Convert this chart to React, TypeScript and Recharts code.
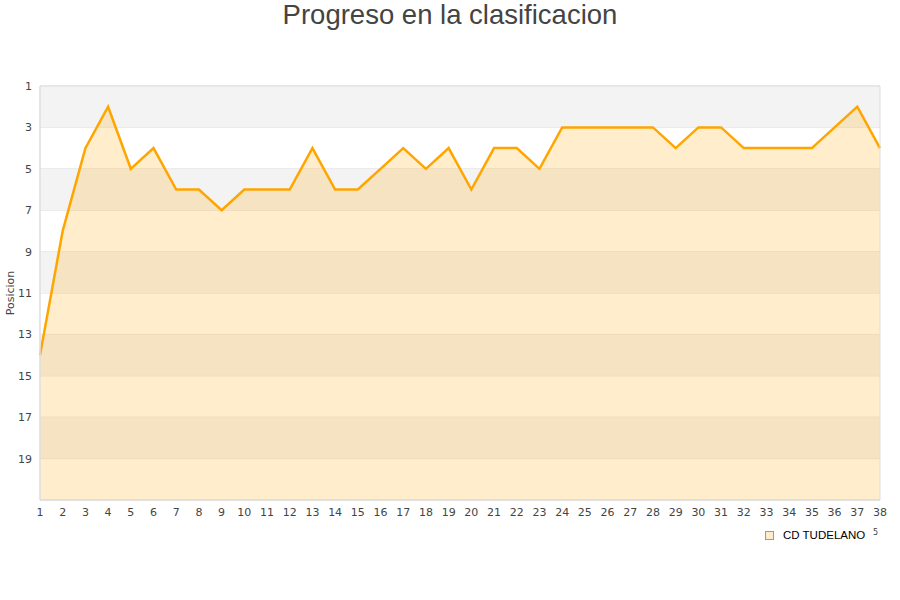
import React from "react";
import {
  AreaChart,
  Area,
  XAxis,
  YAxis,
  CartesianGrid,
  ReferenceArea,
} from "recharts";

// jornadas 1..38
const jornadas = [
  1, 2, 3, 4, 5, 6, 7, 8, 9, 10, 11, 12, 13, 14, 15, 16, 17, 18, 19, 20, 21,
  22, 23, 24, 25, 26, 27, 28, 29, 30, 31, 32, 33, 34, 35, 36, 37, 38,
];

// posicion del CD TUDELANO en cada jornada
const posiciones = [
  14, 8, 4, 2, 5, 4, 6, 6, 7, 6, 6, 6, 4, 6, 6, 5, 4, 5, 4, 6, 4, 4, 5, 3, 3,
  3, 3, 3, 4, 3, 3, 4, 4, 4, 4, 3, 2, 4,
];

const yTicks = [1, 3, 5, 7, 9, 11, 13, 15, 17, 19];
// bandas grises alternas
const bandas = [
  [1, 3],
  [5, 7],
  [9, 11],
  [13, 15],
  [17, 19],
];

const data = jornadas.map((j, i) => ({ jornada: j, posicion: posiciones[i] }));

const tickStyle = { fontSize: 11, fill: "#444", fontFamily: "DejaVu Sans" };

export default function App() {
  return (
    <div
      style={{
        position: "absolute",
        left: 0,
        top: 0,
        width: 900,
        height: 600,
        background: "#fff",
      }}
    >
      <div
        style={{
          position: "absolute",
          top: -1,
          left: 0,
          width: 900,
          textAlign: "center",
          fontFamily: "Liberation Sans",
          fontSize: 27.5,
          lineHeight: "32px",
          color: "#444",
        }}
      >
        Progreso en la clasificacion
      </div>
      <AreaChart
        width={900}
        height={600}
        data={data}
        margin={{ top: 86, right: 20, left: 0, bottom: 70 }}
      >
        {bandas.map(([a, b]) => (
          <ReferenceArea
            key={a}
            x1={1}
            x2={38}
            y1={a}
            y2={b}
            fill="#f3f3f3"
            fillOpacity={1}
            stroke="none"
            ifOverflow="hidden"
          />
        ))}
        <CartesianGrid vertical={false} stroke="#e0e0e0" />
        <XAxis
          dataKey="jornada"
          type="number"
          domain={[1, 38]}
          ticks={jornadas}
          interval={0}
          tickLine={false}
          axisLine={{ stroke: "#ddd" }}
          tick={tickStyle}
          height={30}
        />
        <YAxis
          type="number"
          domain={[1, 21]}
          reversed
          ticks={yTicks}
          interval={0}
          tickLine={false}
          axisLine={{ stroke: "#ddd" }}
          tick={tickStyle}
          width={40}
          label={{
            value: "Posicion",
            angle: -90,
            position: "insideLeft",
            offset: 10,
            style: {
              textAnchor: "middle",
              fontSize: 11,
              fill: "#444",
              fontFamily: "DejaVu Sans",
            },
          }}
        />
        <Area
          type="linear"
          dataKey="posicion"
          baseValue={21}
          stroke="#ffa500"
          strokeWidth={2.5}
          fill="#ffa500"
          fillOpacity={0.2}
          dot={false}
          activeDot={false}
          isAnimationActive={false}
        />
        <ReferenceArea
          x1={1}
          x2={38}
          y1={1}
          y2={21}
          fill="none"
          stroke="#ddd"
          ifOverflow="visible"
        />
      </AreaChart>
      <div
        style={{
          position: "absolute",
          left: 765,
          top: 529,
          display: "flex",
          alignItems: "center",
          fontFamily: "Liberation Sans",
          fontSize: 11.5,
          color: "#000",
        }}
      >
        <span
          style={{
            display: "inline-block",
            width: 7,
            height: 7,
            background: "#fdeccb",
            border: "1px solid #999",
            marginRight: 9,
          }}
        />
        CD TUDELANO
      </div>
      <div
        style={{
          position: "absolute",
          left: 873,
          top: 528,
          fontFamily: "DejaVu Sans",
          fontSize: 8,
          color: "#444",
        }}
      >
        5
      </div>
    </div>
  );
}
